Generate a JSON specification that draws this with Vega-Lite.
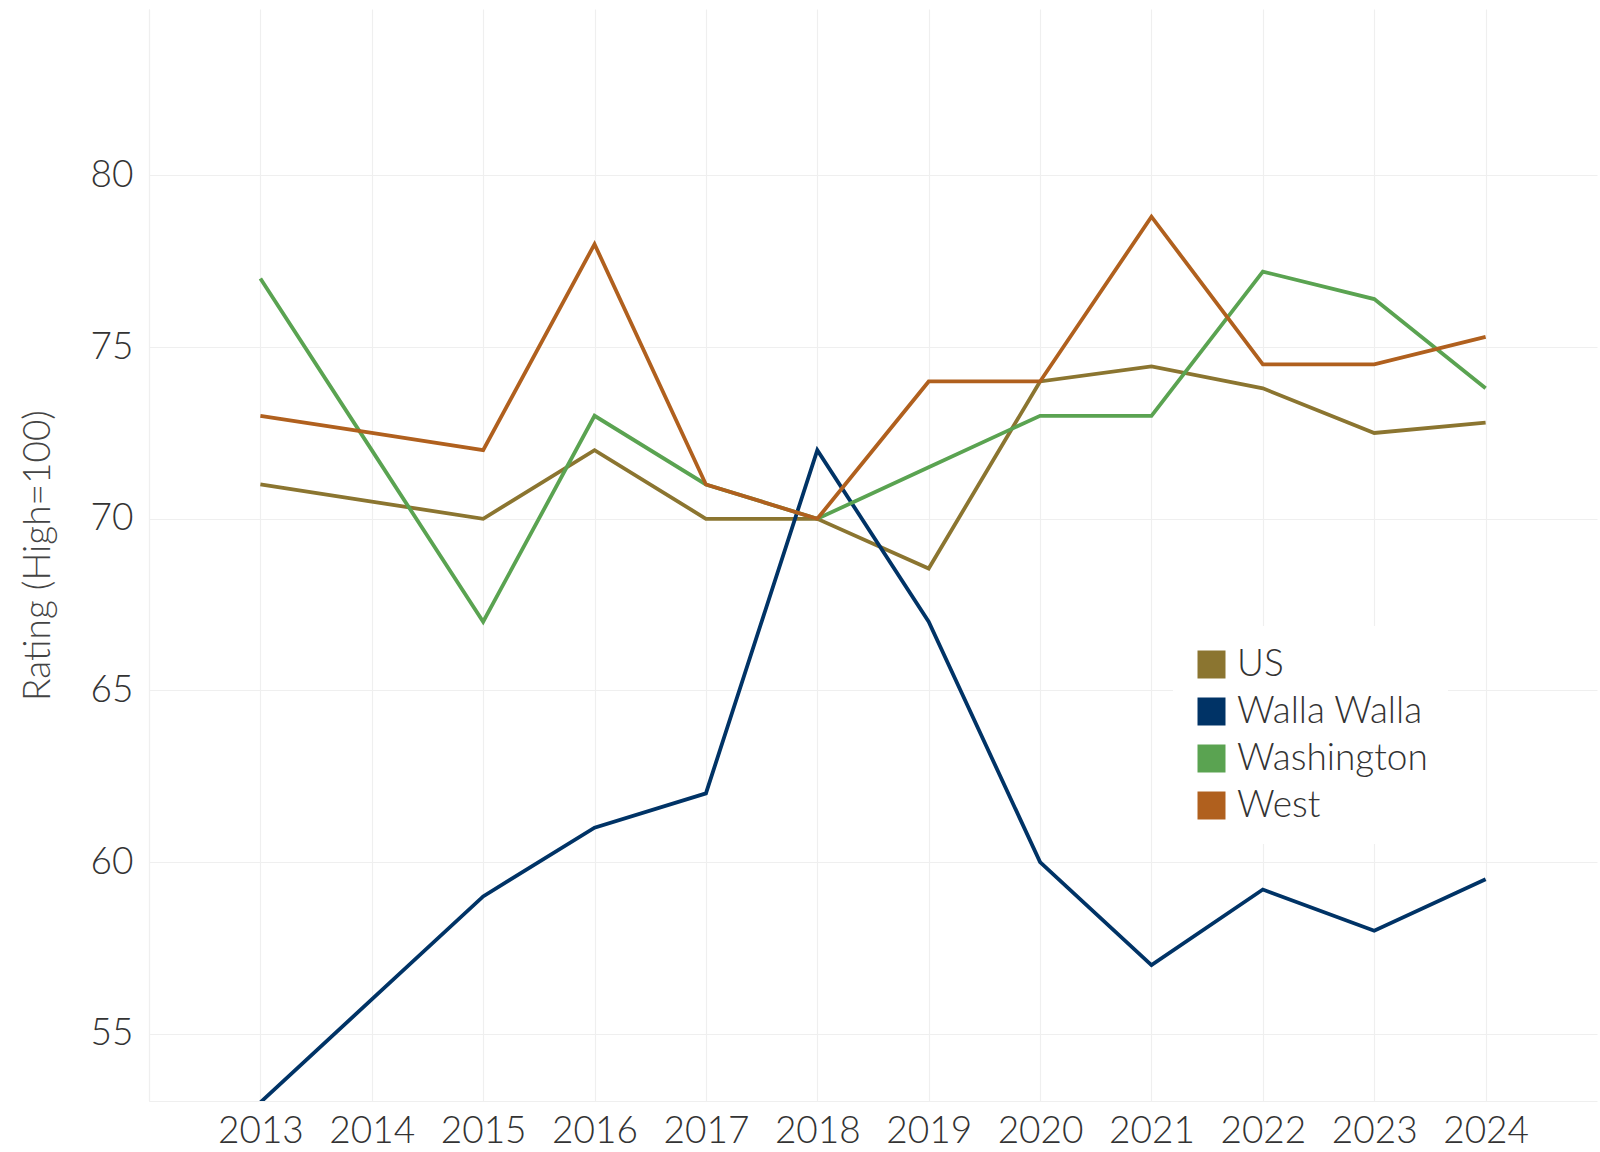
{
  "$schema": "https://vega.github.io/schema/vega-lite/v6.json",
  "autosize": "none",
  "width": 1448,
  "height": 1092,
  "padding": {"left": 149, "top": 9, "right": 3, "bottom": 51},
  "background": "white",
  "config": {
    "font": "Lato",
    "view": {"stroke": null},
    "axis": {"labelFont": "Lato", "titleFont": "Lato", "gridColor": "#efefef", "gridWidth": 1.2}
  },
  "data": {
    "values": [
      {"year": 2013, "region": "US", "rating": 71.0},
      {"year": 2014, "region": "US", "rating": 70.5},
      {"year": 2015, "region": "US", "rating": 70.0},
      {"year": 2016, "region": "US", "rating": 72.0},
      {"year": 2017, "region": "US", "rating": 70.0},
      {"year": 2018, "region": "US", "rating": 70.0},
      {"year": 2019, "region": "US", "rating": 68.55},
      {"year": 2020, "region": "US", "rating": 74.0},
      {"year": 2021, "region": "US", "rating": 74.44},
      {"year": 2022, "region": "US", "rating": 73.8},
      {"year": 2023, "region": "US", "rating": 72.5},
      {"year": 2024, "region": "US", "rating": 72.8},
      {"year": 2013, "region": "Walla Walla", "rating": 53.0},
      {"year": 2014, "region": "Walla Walla", "rating": 56.0},
      {"year": 2015, "region": "Walla Walla", "rating": 59.0},
      {"year": 2016, "region": "Walla Walla", "rating": 61.0},
      {"year": 2017, "region": "Walla Walla", "rating": 62.0},
      {"year": 2018, "region": "Walla Walla", "rating": 72.0},
      {"year": 2019, "region": "Walla Walla", "rating": 67.0},
      {"year": 2020, "region": "Walla Walla", "rating": 60.0},
      {"year": 2021, "region": "Walla Walla", "rating": 57.0},
      {"year": 2022, "region": "Walla Walla", "rating": 59.2},
      {"year": 2023, "region": "Walla Walla", "rating": 58.0},
      {"year": 2024, "region": "Walla Walla", "rating": 59.5},
      {"year": 2013, "region": "Washington", "rating": 77.0},
      {"year": 2014, "region": "Washington", "rating": 72.0},
      {"year": 2015, "region": "Washington", "rating": 67.0},
      {"year": 2016, "region": "Washington", "rating": 73.0},
      {"year": 2017, "region": "Washington", "rating": 71.0},
      {"year": 2018, "region": "Washington", "rating": 70.0},
      {"year": 2019, "region": "Washington", "rating": 71.5},
      {"year": 2020, "region": "Washington", "rating": 73.0},
      {"year": 2021, "region": "Washington", "rating": 73.0},
      {"year": 2022, "region": "Washington", "rating": 77.2},
      {"year": 2023, "region": "Washington", "rating": 76.4},
      {"year": 2024, "region": "Washington", "rating": 73.8},
      {"year": 2013, "region": "West", "rating": 73.0},
      {"year": 2014, "region": "West", "rating": 72.5},
      {"year": 2015, "region": "West", "rating": 72.0},
      {"year": 2016, "region": "West", "rating": 78.0},
      {"year": 2017, "region": "West", "rating": 71.0},
      {"year": 2018, "region": "West", "rating": 70.0},
      {"year": 2019, "region": "West", "rating": 74.0},
      {"year": 2020, "region": "West", "rating": 74.0},
      {"year": 2021, "region": "West", "rating": 78.8},
      {"year": 2022, "region": "West", "rating": 74.5},
      {"year": 2023, "region": "West", "rating": 74.5},
      {"year": 2024, "region": "West", "rating": 75.3}
    ]
  },
  "mark": {"type": "line", "strokeWidth": 3.8, "clip": true},
  "encoding": {
    "x": {
      "field": "year",
      "type": "quantitative",
      "scale": {"domain": [2012, 2025], "nice": false, "zero": false},
      "axis": {
        "title": null,
        "values": [2012, 2013, 2014, 2015, 2016, 2017, 2018, 2019, 2020, 2021, 2022, 2023, 2024],
        "labelExpr": "datum.value == 2012 ? '' : datum.value",
        "format": "d",
        "labelFontSize": 37,
        "labelFontWeight": 300,
        "labelColor": "#333333",
        "labelPadding": 12,
        "ticks": false,
        "domain": true,
        "domainColor": "#efefef",
        "domainWidth": 1.2,
        "grid": true
      }
    },
    "y": {
      "field": "rating",
      "type": "quantitative",
      "scale": {"domain": [53.04, 84.85], "nice": false, "zero": false},
      "axis": {
        "title": "Rating (High=100)",
        "titleFontSize": 37,
        "titleFontWeight": 300,
        "titleColor": "#444444",
        "titlePadding": 33,
        "values": [55, 60, 65, 70, 75, 80],
        "labelFontSize": 37,
        "labelFontWeight": 300,
        "labelColor": "#333333",
        "labelPadding": 16,
        "ticks": false,
        "domain": true,
        "domainColor": "#efefef",
        "domainWidth": 1.2,
        "grid": true
      }
    },
    "color": {
      "field": "region",
      "type": "nominal",
      "scale": {
        "domain": ["US", "Walla Walla", "Washington", "West"],
        "range": ["#8b7530", "#003366", "#5aa351", "#b0601e"]
      },
      "legend": {
        "title": null,
        "orient": "none",
        "legendX": 1024,
        "legendY": 617,
        "fillColor": "white",
        "padding": 20,
        "symbolType": "square",
        "symbolSize": 784,
        "symbolStrokeWidth": 0,
        "symbolOpacity": 1,
        "labelFontSize": 37,
        "labelFontWeight": 300,
        "labelLimit": 400,
        "labelColor": "#333333",
        "labelOffset": 7,
        "rowPadding": 9,
        "encode": {
          "symbols": {"update": {"fill": {"scale": "color", "field": "value"}, "opacity": {"value": 1}}}
        }
      }
    }
  }
}
